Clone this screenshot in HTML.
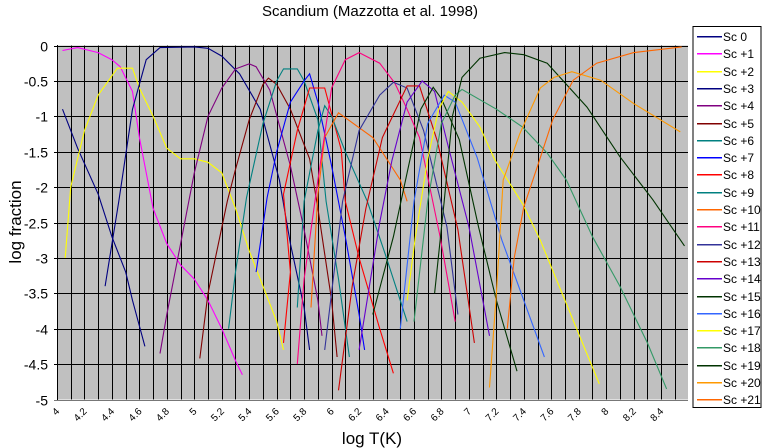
<!DOCTYPE html>
<html><head><meta charset="utf-8"><style>
body{margin:0;background:#fff;width:762px;height:448px;overflow:hidden}
svg{display:block;font-family:"Liberation Sans",sans-serif}
</style></head><body>
<svg id="s" width="762" height="448" xmlns="http://www.w3.org/2000/svg">
<text x="370" y="16" font-size="15" text-anchor="middle">Scandium  (Mazzotta et al. 1998)</text>
<text x="0" y="0" font-size="17" text-anchor="middle" transform="translate(21,222) rotate(-90)">log fraction</text>
<text x="372" y="444" font-size="17" text-anchor="middle">log T(K)</text>
<rect x="57" y="45.5" width="631" height="354" fill="#c0c0c0"/>
<g id="grid" shape-rendering="crispEdges"></g><g id="curves"></g><g id="lab"></g>
<rect x="693" y="26.5" width="68" height="381" fill="#fff" stroke="#000" shape-rendering="crispEdges"/>
<g id="leg"></g>
</svg>
<script>
var X=function(t){return 57+(t-4)*137.3},Y=function(v){return 45.5-v*70.8};
var ns="http://www.w3.org/2000/svg",g=document.getElementById('grid'),lab=document.getElementById('lab');
function el(p,n,a,t){var e=document.createElementNS(ns,n);for(var k in a)e.setAttribute(k,a[k]);if(t!=null)e.textContent=t;p.appendChild(e);return e}
for(var i=0;i<=45;i++){var x=Math.round(X(4+i*0.1))+0.5;el(g,'line',{x1:x,y1:45.5,x2:x,y2:399.5,stroke:'#000','stroke-width':1});}
for(var k=0;k<=10;k++){var y=Math.round(Y(-k*0.5))+0.5;el(g,'line',{x1:54,y1:y,x2:688,y2:y,stroke:k==10?'#777':'#000','stroke-width':1});
el(lab,'text',{x:48,y:y+5,'font-size':14,'text-anchor':'end'},k==0?'0':(k%2==0?'-'+(k/2):'-'+((k/2).toFixed(1))));}
el(g,'line',{x1:57.5,y1:45,x2:57.5,y2:400,stroke:'#000'});
for(var i=0;i<=22;i++){var t=4+i*0.2;var s=(Math.round(t*10)/10).toString();var x=X(t);
el(lab,'text',{x:0,y:0,'font-size':10,'text-anchor':'end',transform:'translate('+(x+3)+',412) rotate(-45)'},s);}
var C=[
['#000080',[[4.04,-0.9],[4.15,-1.45],[4.3,-2.1],[4.4,-2.7],[4.5,-3.2],[4.55,-3.6],[4.64,-4.25]]],
['#ff00ff',[[4.04,-0.07],[4.15,-0.03],[4.3,-0.1],[4.4,-0.2],[4.46,-0.3],[4.55,-0.65],[4.6,-1.3],[4.7,-2.3],[4.8,-2.8],[4.9,-3.1],[5.0,-3.3],[5.1,-3.6],[5.2,-4.0],[5.3,-4.45],[5.35,-4.65]]],
['#ffff00',[[4.06,-3.0],[4.1,-2.0],[4.2,-1.2],[4.3,-0.7],[4.44,-0.32],[4.55,-0.32],[4.6,-0.6],[4.7,-1.0],[4.8,-1.45],[4.9,-1.6],[5.0,-1.6],[5.1,-1.65],[5.2,-1.8],[5.3,-2.3],[5.4,-2.9],[5.5,-3.4],[5.6,-3.9],[5.65,-4.3]]],
['#000080',[[4.35,-3.4],[4.45,-2.2],[4.55,-0.9],[4.65,-0.2],[4.75,-0.03],[5.0,-0.02],[5.1,-0.04],[5.2,-0.15],[5.33,-0.4],[5.48,-0.9],[5.62,-1.9],[5.7,-2.8],[5.8,-3.7],[5.84,-4.3]]],
['#800080',[[4.75,-4.35],[4.8,-3.8],[4.9,-2.8],[5.0,-1.8],[5.1,-1.0],[5.2,-0.6],[5.3,-0.33],[5.4,-0.26],[5.45,-0.3],[5.55,-0.63],[5.7,-1.7],[5.8,-2.6],[5.9,-3.6],[5.93,-4.1]]],
['#800000',[[5.04,-4.42],[5.1,-3.5],[5.24,-2.2],[5.3,-1.75],[5.4,-1.05],[5.5,-0.55],[5.54,-0.46],[5.6,-0.55],[5.7,-0.9],[5.84,-1.6],[5.9,-2.3],[6.0,-3.6],[6.04,-4.4]]],
['#008080',[[5.25,-4.0],[5.3,-3.2],[5.38,-2.15],[5.5,-1.1],[5.6,-0.5],[5.65,-0.33],[5.75,-0.33],[5.8,-0.5],[5.9,-1.05],[5.96,-2.2],[6.05,-3.3],[6.13,-4.4]]],
['#0000ff',[[5.45,-3.2],[5.53,-2.15],[5.6,-1.5],[5.7,-0.8],[5.8,-0.5],[5.84,-0.4],[5.9,-0.8],[6.0,-1.7],[6.1,-2.7],[6.2,-3.8],[6.24,-4.3]]],
['#ff0000',[[5.65,-4.2],[5.7,-3.2],[5.65,-2.1],[5.75,-1.2],[5.84,-0.6],[5.95,-0.6],[6.07,-1.47],[6.1,-2.2],[6.2,-3.0],[6.35,-4.0],[6.45,-4.63]]],
['#008080',[[5.75,-3.7],[5.8,-2.2],[5.9,-1.2],[5.95,-0.85],[6.0,-1.0],[6.1,-1.5],[6.26,-2.2],[6.4,-3.0],[6.55,-3.9]]],
['#ff6600',[[5.85,-3.7],[5.9,-2.1],[5.95,-1.3],[6.05,-0.95],[6.3,-1.3],[6.5,-1.9],[6.55,-2.2]]],
['#ff0080',[[5.75,-4.5],[5.8,-3.3],[5.9,-1.9],[6.0,-0.6],[6.1,-0.2],[6.2,-0.1],[6.35,-0.25],[6.46,-0.53],[6.55,-0.9],[6.64,-1.3],[6.79,-2.7],[6.9,-3.9]]],
['#333399',[[5.95,-4.3],[6.08,-2.2],[6.2,-1.2],[6.35,-0.7],[6.45,-0.52],[6.55,-0.6],[6.67,-1.2],[6.84,-2.56],[6.92,-3.8]]],
['#cc0000',[[6.05,-4.87],[6.15,-3.4],[6.25,-2.3],[6.37,-1.3],[6.55,-0.57],[6.64,-0.57],[6.77,-1.35],[6.92,-2.6],[7.04,-4.2]]],
['#6600cc',[[6.2,-4.3],[6.35,-2.5],[6.44,-1.62],[6.55,-0.8],[6.66,-0.5],[6.75,-0.65],[6.84,-1.35],[7.0,-2.56],[7.15,-4.1]]],
['#003300',[[6.3,-3.8],[6.45,-2.7],[6.55,-1.8],[6.65,-0.9],[6.74,-0.59],[6.8,-0.75],[6.93,-1.33],[7.07,-2.56],[7.2,-3.6],[7.35,-4.6]]],
['#3366ff',[[6.5,-4.0],[6.6,-2.2],[6.7,-1.1],[6.82,-0.7],[6.9,-0.8],[7.06,-1.58],[7.24,-2.75],[7.4,-3.6],[7.55,-4.4]]],
['#ffff00',[[6.55,-3.6],[6.61,-2.7],[6.7,-1.6],[6.78,-0.9],[6.85,-0.65],[6.95,-0.8],[7.08,-1.15],[7.19,-1.62],[7.39,-2.23],[7.52,-2.75],[7.7,-3.6],[7.95,-4.78]]],
['#339966',[[6.6,-3.9],[6.7,-2.2],[6.8,-1.1],[6.9,-0.7],[6.95,-0.62],[7.2,-0.9],[7.39,-1.15],[7.57,-1.52],[7.71,-1.9],[7.9,-2.7],[8.1,-3.4],[8.3,-4.2],[8.44,-4.85]]],
['#003300',[[6.75,-3.5],[6.82,-2.2],[6.88,-1.0],[6.95,-0.45],[7.08,-0.18],[7.26,-0.1],[7.4,-0.13],[7.57,-0.25],[7.86,-0.87],[8.1,-1.57],[8.34,-2.18],[8.57,-2.83]]],
['#ff9900',[[7.15,-4.83],[7.2,-3.5],[7.25,-1.9],[7.37,-1.25],[7.52,-0.6],[7.62,-0.45],[7.75,-0.37],[7.96,-0.49],[8.2,-0.82],[8.54,-1.22]]],
['#ff6600',[[7.28,-4.0],[7.33,-3.0],[7.4,-2.28],[7.5,-1.7],[7.61,-1.05],[7.76,-0.49],[7.93,-0.25],[8.2,-0.1],[8.55,-0.02]]]];
var cg=document.getElementById('curves'),lg=document.getElementById('leg');
C.forEach(function(c,i){el(cg,'polyline',{points:c[1].map(function(p){return X(p[0]).toFixed(1)+','+Y(p[1]).toFixed(1)}).join(' '),fill:'none',stroke:c[0],'stroke-width':1.1});
var y=Math.round(36+i*17.3);el(lg,'rect',{x:697,y:y,width:25,height:1.5,fill:c[0]});
el(lg,'text',{x:723,y:y+5,'font-size':12},'Sc '+(i==0?' 0':'+'+i));});
</script>
</body></html>
